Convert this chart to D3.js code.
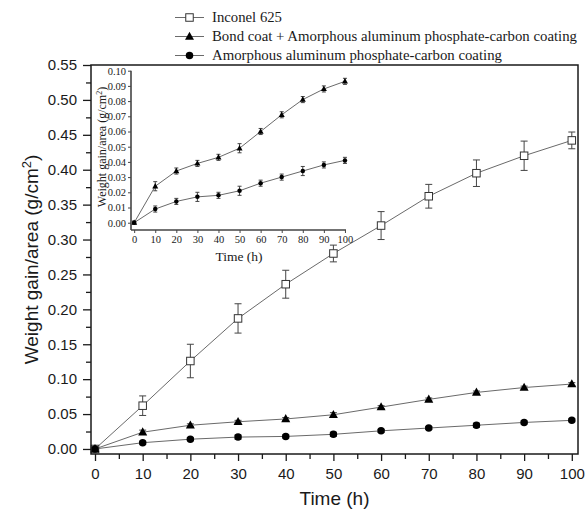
<!DOCTYPE html>
<html>
<head>
<meta charset="utf-8">
<script src="https://cdn.jsdelivr.net/npm/d3@7/dist/d3.min.js"></script>
<style>
  html, body { margin: 0; padding: 0; background: #fff; }
  svg { display: block; }
</style>
</head>
<body>
<svg id="chart" width="587" height="517"></svg>
<script>
// Oxidation weight gain over time for three specimens
const times = [0, 10, 20, 30, 40, 50, 60, 70, 80, 90, 100];

const inconel    = [0, 0.062, 0.126, 0.187, 0.236, 0.280, 0.320, 0.362, 0.395, 0.420, 0.442];
const inconelErr = [0, 0.014, 0.024, 0.021, 0.020, 0.012, 0.020, 0.017, 0.019, 0.021, 0.012];

const bondCoat    = [0, 0.024, 0.034, 0.039, 0.043, 0.049, 0.060, 0.071, 0.081, 0.088, 0.093];
const bondCoatErr = [0.001, 0.003, 0.002, 0.002, 0.002, 0.003, 0.002, 0.002, 0.002, 0.002, 0.002];

const amorphous    = [0, 0.009, 0.014, 0.017, 0.018, 0.021, 0.026, 0.030, 0.034, 0.038, 0.041];
const amorphousErr = [0.001, 0.002, 0.002, 0.003, 0.002, 0.003, 0.002, 0.002, 0.003, 0.002, 0.002];

const seriesNames = [
  "Inconel 625",
  "Bond coat + Amorphous aluminum phosphate-carbon coating",
  "Amorphous aluminum phosphate-carbon coating"
];

const mainXTicks = [0, 10, 20, 30, 40, 50, 60, 70, 80, 90, 100];
const mainYTicks = [0, 0.05, 0.10, 0.15, 0.20, 0.25, 0.30, 0.35, 0.40, 0.45, 0.50, 0.55];
const insetYTicks = [0, 0.01, 0.02, 0.03, 0.04, 0.05, 0.06, 0.07, 0.08, 0.09, 0.10];

const svg = d3.select("#chart");
const INK = "#1a1a1a";
const LINE = "#6a6a6a";
const SANS = "'Liberation Sans', Arial, sans-serif";
const SERIF = "'Liberation Serif', 'Times New Roman', serif";

// ---------- main plot ----------
const frame = { left: 91, right: 578, top: 65, bottom: 454 };
const x = d3.scaleLinear().domain([-0.84, 101.3]).range([frame.left, frame.right]);
const y = d3.scaleLinear().domain([-0.0072, 0.55]).range([frame.bottom, frame.top]);

const series = [
  { name: seriesNames[0], vals: inconel,   err: inconelErr,   shape: "square" },
  { name: seriesNames[1], vals: bondCoat,  err: bondCoatErr,  shape: "triangle" },
  { name: seriesNames[2], vals: amorphous, err: amorphousErr, shape: "circle" }
];

function drawMarker(g, shape, cx, cy, size) {
  if (shape === "square") {
    g.append("rect")
      .attr("x", cx - size / 2).attr("y", cy - size / 2)
      .attr("width", size).attr("height", size)
      .attr("fill", "#fff").attr("stroke", "#333").attr("stroke-width", 1);
  } else if (shape === "triangle") {
    const h = size * 0.9;
    g.append("path")
      .attr("d", `M${cx},${cy - h * 0.6}L${cx + size / 2},${cy + h * 0.4}L${cx - size / 2},${cy + h * 0.4}Z`)
      .attr("fill", "#000");
  } else {
    g.append("circle").attr("cx", cx).attr("cy", cy).attr("r", size / 2).attr("fill", "#000");
  }
}

function drawSeries(g, xs, ys, s, opt) {
  const line = d3.line().x((d, i) => xs(times[i])).y(d => ys(d));
  g.append("path").datum(s.vals).attr("d", line)
    .attr("fill", "none").attr("stroke", LINE).attr("stroke-width", 1);
  s.vals.forEach((v, i) => {
    const cx = xs(times[i]);
    const e = s.err[i];
    if (e > 0) {
      const y1 = ys(v + e), y2 = ys(v - e);
      g.append("line").attr("x1", cx).attr("x2", cx).attr("y1", y1).attr("y2", y2)
        .attr("stroke", "#444").attr("stroke-width", 1);
      [y1, y2].forEach(yy => g.append("line")
        .attr("x1", cx - opt.cap).attr("x2", cx + opt.cap).attr("y1", yy).attr("y2", yy)
        .attr("stroke", "#444").attr("stroke-width", 1));
    }
  });
  s.vals.forEach((v, i) => drawMarker(g, s.shape, xs(times[i]), ys(v), opt.size[s.shape]));
}

const plot = svg.append("g");
series.forEach(s => drawSeries(plot, x, y, s, { cap: 3.5, size: { square: 7.5, triangle: 9, circle: 7.5 } }));

// frame
svg.append("rect")
  .attr("x", frame.left).attr("y", frame.top)
  .attr("width", frame.right - frame.left).attr("height", frame.bottom - frame.top)
  .attr("fill", "none").attr("stroke", INK).attr("stroke-width", 1.5);

// bottom axis
const xAxis = svg.append("g").attr("transform", `translate(0,${frame.bottom})`)
  .call(d3.axisBottom(x).tickValues(mainXTicks).tickSize(7).tickPadding(7).tickFormat(d3.format("d")));
xAxis.select(".domain").remove();
xAxis.selectAll(".tick line").attr("stroke", INK).attr("stroke-width", 1.3);
xAxis.selectAll("text").attr("font-family", SANS).attr("font-size", 15).attr("fill", INK);
const xMinor = svg.append("g").attr("transform", `translate(0,${frame.bottom})`)
  .call(d3.axisBottom(x).tickValues(d3.range(5, 100, 10)).tickSize(5).tickFormat(""));
xMinor.select(".domain").remove();
xMinor.selectAll(".tick line").attr("stroke", INK).attr("stroke-width", 1.3);

// left axis
const yAxis = svg.append("g").attr("transform", `translate(${frame.left},0)`)
  .call(d3.axisLeft(y).tickValues(mainYTicks).tickSize(8).tickPadding(6).tickFormat(d3.format(".2f")));
yAxis.select(".domain").remove();
yAxis.selectAll(".tick line").attr("stroke", INK).attr("stroke-width", 1.3);
yAxis.selectAll("text").attr("font-family", SANS).attr("font-size", 15).attr("fill", INK);
const yMinor = svg.append("g").attr("transform", `translate(${frame.left},0)`)
  .call(d3.axisLeft(y).tickValues(d3.range(0.025, 0.55, 0.05)).tickSize(5).tickFormat(""));
yMinor.select(".domain").remove();
yMinor.selectAll(".tick line").attr("stroke", INK).attr("stroke-width", 1.3);

// axis titles
svg.append("text").attr("x", (frame.left + frame.right) / 2).attr("y", 505)
  .attr("text-anchor", "middle").attr("font-family", SANS).attr("font-size", 19).attr("fill", INK)
  .text("Time (h)");
const yt = svg.append("text")
  .attr("transform", `translate(38,${(frame.top + frame.bottom) / 2}) rotate(-90)`)
  .attr("text-anchor", "middle").attr("font-family", SANS).attr("font-size", 19).attr("fill", INK);
yt.append("tspan").text("Weight gain/area (g/cm");
yt.append("tspan").attr("dy", -7).attr("font-size", 13).text("2");
yt.append("tspan").attr("dy", 7).text(")");

// ---------- inset ----------
const ix = d3.scaleLinear().domain([-1.5, 100.5]).range([131, 346]);
const iy = d3.scaleLinear().domain([-0.0048, 0.10]).range([230, 70.7]);
const inset = svg.append("g");
series.slice(1).forEach(s => drawSeries(inset, ix, iy, s, { cap: 2, size: { triangle: 6, circle: 4.5 } }));

const ixAxis = svg.append("g").attr("transform", `translate(0,230)`)
  .call(d3.axisBottom(ix).tickValues(mainXTicks).tickSize(3).tickPadding(3).tickFormat(d3.format("d")));
ixAxis.select(".domain").attr("d", `M${ix.range()[0]},0H${ix.range()[1]}`).attr("stroke", "#444").attr("stroke-width", 1.6);
ixAxis.selectAll(".tick line").attr("stroke", "#444");
ixAxis.selectAll("text").attr("font-family", SERIF).attr("font-size", 10.5).attr("fill", INK);

const iyAxis = svg.append("g").attr("transform", `translate(131,0)`)
  .call(d3.axisLeft(iy).tickValues(insetYTicks).tickSize(3).tickPadding(2).tickFormat(d3.format(".2f")));
iyAxis.select(".domain").attr("d", `M0,${iy.range()[0]}V${iy.range()[1]}`).attr("stroke", "#444").attr("stroke-width", 1.6);
iyAxis.selectAll(".tick line").attr("stroke", "#444");
iyAxis.selectAll("text").attr("font-family", SERIF).attr("font-size", 10.5).attr("fill", INK);

svg.append("text").attr("x", 239).attr("y", 261)
  .attr("text-anchor", "middle").attr("font-family", SERIF).attr("font-size", 13.5).attr("fill", INK)
  .text("Time (h)");
const iyt = svg.append("text")
  .attr("transform", `translate(106,147) rotate(-90)`)
  .attr("text-anchor", "middle").attr("font-family", SERIF).attr("font-size", 12).attr("fill", INK);
iyt.append("tspan").text("Weight gain/area (g/cm");
iyt.append("tspan").attr("dy", -4).attr("font-size", 8).text("2");
iyt.append("tspan").attr("dy", 4).text(")");

// ---------- legend ----------
const legendRows = [22, 41, 60];
const legendWidths = [70, 365, 290];
series.forEach((s, i) => {
  const cy = legendRows[i] - 4.5;
  const g = svg.append("g");
  g.append("line").attr("x1", 175).attr("x2", 204).attr("y1", cy).attr("y2", cy)
    .attr("stroke", LINE).attr("stroke-width", 1);
  drawMarker(g, s.shape, 189.5, cy, { square: 7.5, triangle: 9, circle: 7.5 }[s.shape]);
  g.append("text").attr("x", 212).attr("y", legendRows[i])
    .attr("font-family", SERIF).attr("font-size", 14.7).attr("fill", INK)
    .attr("textLength", legendWidths[i]).attr("lengthAdjust", "spacingAndGlyphs")
    .text(s.name);
});
</script>
</body>
</html>
